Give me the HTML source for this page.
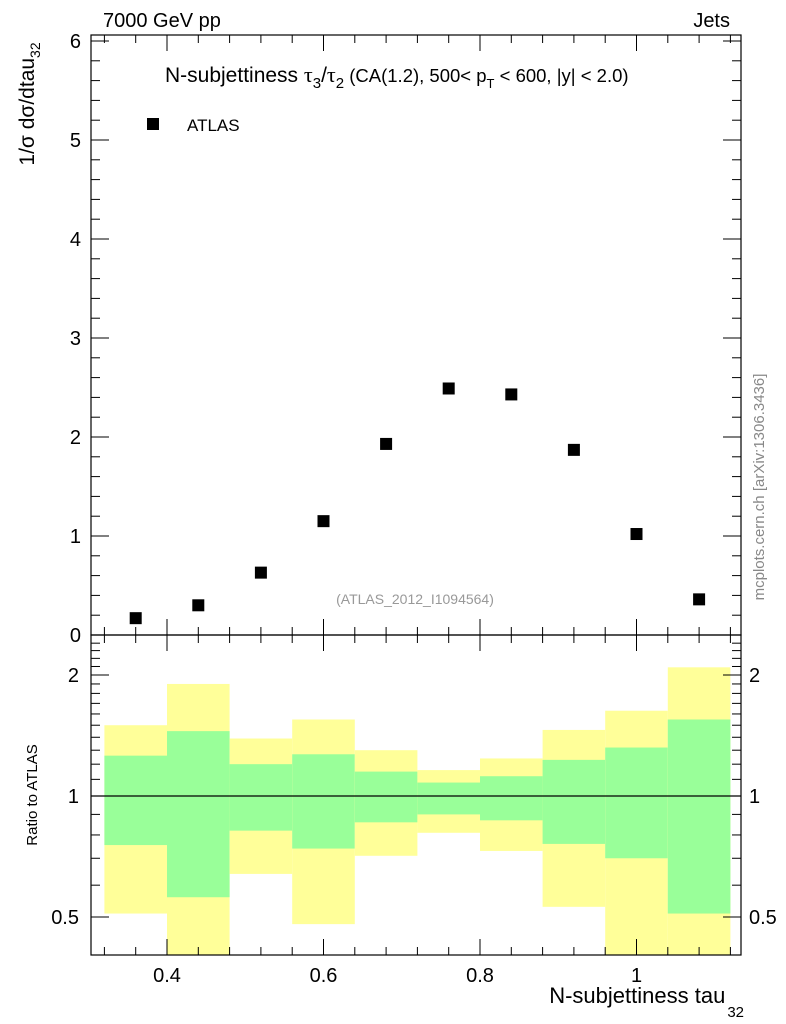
<!DOCTYPE html>
<html><head><meta charset="utf-8"><style>
body{margin:0;background:#fff;}
svg{display:block;font-family:"Liberation Sans",sans-serif;}
</style></head><body>
<svg id="c" width="786" height="1024" viewBox="0 0 786 1024"></svg>
<script>
const xs=[0.36,0.44,0.52,0.60,0.68,0.76,0.84,0.92,1.00,1.08];
const vals=[0.17,0.30,0.63,1.15,1.93,2.49,2.43,1.87,1.02,0.36];
const binLo=[0.32,0.40,0.48,0.56,0.64,0.72,0.80,0.88,0.96,1.04];
const binHi=[0.40,0.48,0.56,0.64,0.72,0.80,0.88,0.96,1.04,1.12];
const yelHi=[1.50,1.90,1.39,1.55,1.30,1.16,1.24,1.46,1.63,2.09];
const yelLo=[0.51,0.38,0.64,0.48,0.71,0.81,0.73,0.53,0.38,0.38];
const grnHi=[1.26,1.45,1.20,1.27,1.15,1.08,1.12,1.23,1.32,1.55];
const grnLo=[0.755,0.56,0.82,0.74,0.86,0.90,0.87,0.76,0.70,0.51];
const mainTicks=[0,1,2,3,4,5,6];
const xTicks=[0.4,0.6,0.8,1.0];
const xTickLabels=["0.4","0.6","0.8","1"];
const ratioTicks=[0.5,1,2];
const ratioTickLabels=["0.5","1","2"];

const NS="http://www.w3.org/2000/svg";
const svg=document.getElementById('c');
const L=91,R=741,MT=35,MB=635,RT=635,RB=955;
const X=v=>167+(v-0.4)*782.5;
const Y=v=>635-v*99;
const ymin=0.402,ymax=2.53;
const RY=v=>796-Math.log2(Math.max(v,ymin*0.99))*121;
function el(t,a,p){const e=document.createElementNS(NS,t);for(const k in a)e.setAttribute(k,a[k]);(p||svg).appendChild(e);return e;}
function txt(x,y,s,sz,anc,fill){const e=el('text',{x:x,y:y,'font-size':sz,'text-anchor':anc||'start',fill:fill||'#000'});e.textContent=s;return e;}

const clipR=el('clipPath',{id:'cr'});el('rect',{x:L,y:RT,width:R-L,height:RB-RT},clipR);
const bg=el('g',{'clip-path':'url(#cr)'});


for(let i=0;i<binLo.length;i++){
  const y=el('rect',{x:X(binLo[i]),y:RY(yelHi[i]),width:X(binHi[i])-X(binLo[i]),height:RY(yelLo[i])-RY(yelHi[i]),fill:'#ffff99'},bg);
  
  
  const g=el('rect',{x:X(binLo[i]),y:RY(grnHi[i]),width:X(binHi[i])-X(binLo[i]),height:RY(grnLo[i])-RY(grnHi[i]),fill:'#99ff99'},bg);
  
  
}
el('line',{x1:L,x2:R,y1:RY(1),y2:RY(1),stroke:'#000','stroke-width':1.2});

el('rect',{x:L,y:MT,width:R-L,height:MB-MT,fill:'none',stroke:'#000','stroke-width':1.2});
el('rect',{x:L,y:RT,width:R-L,height:RB-RT,fill:'none',stroke:'#000','stroke-width':1.2});

for(let v=0;v<=6.001;v+=0.2){const y=Y(v);if(y<MT)continue;const big=Math.abs(v-Math.round(v))<1e-6;const l=big?18:9;
 el('line',{x1:L,x2:L+l,y1:y,y2:y,stroke:'#000'});el('line',{x1:R,x2:R-l,y1:y,y2:y,stroke:'#000'});}
mainTicks.forEach(v=>{const t=txt(L-10,Y(v)+7,String(v),20,'end');});
for(let v=0.32;v<=1.13;v+=0.04){const x=X(v);if(x<L||x>R)continue;const big=Math.abs(v*5-Math.round(v*5))<1e-6;const l=big?16:8;
 [MT,RT].forEach(t=>el('line',{x1:x,x2:x,y1:t,y2:t+l,stroke:'#000'}));
 [MB,RB].forEach(b=>el('line',{x1:x,x2:x,y1:b,y2:b-l,stroke:'#000'}));}
xTicks.forEach((v,i)=>{const t=txt(X(v),982,xTickLabels[i],20,'middle');});
for(let v=0.4;v<=2.5;v+=0.1){const y=RY(v);if(y<RT||y>RB)continue;const big=ratioTicks.some(t=>Math.abs(t-v)<1e-6);const l=big?18:9;
 el('line',{x1:L,x2:L+l,y1:y,y2:y,stroke:'#000'});el('line',{x1:R,x2:R-l,y1:y,y2:y,stroke:'#000'});}
ratioTicks.forEach((v,i)=>{let t=txt(L-12,RY(v)+7,ratioTickLabels[i],20,'end');
 t=txt(R+8,RY(v)+7,ratioTickLabels[i],20,'start');});

xs.forEach((x,i)=>{const r=el('rect',{x:X(x)-6,y:Y(vals[i])-6,width:12,height:12,fill:'#000'});
 });

let t=txt(103,27,'7000 GeV pp',20);
t=txt(730,27,'Jets',20,'end');
t=el('text',{x:165,y:82,'font-size':21});
t.innerHTML='N-subjettiness <tspan font-family="Liberation Serif,serif" font-size="22">τ</tspan><tspan font-size="15" dy="6">3</tspan><tspan dy="-6">/</tspan><tspan font-family="Liberation Serif,serif" font-size="22">τ</tspan><tspan font-size="15" dy="6">2</tspan><tspan font-size="18.5" dy="-6"> (CA(1.2), 500&lt; p</tspan><tspan font-size="13" dy="6">T</tspan><tspan font-size="18.5" dy="-6"> &lt; 600, |y| &lt; 2.0)</tspan>';
el('rect',{x:147,y:118,width:12,height:12,fill:'#000'});
t=txt(187,131,'ATLAS',17);
t=txt(415,604,'(ATLAS_2012_I1094564)',14,'middle','#999');
t=el('text',{x:0,y:0,'font-size':21,transform:'translate(34,104) rotate(-90)','text-anchor':'middle'});t.innerHTML='1/σ dσ/dtau<tspan font-size="14" dy="6">32</tspan>';

t=el('text',{x:0,y:0,'font-size':15,transform:'translate(37,795) rotate(-90)','text-anchor':'middle'});t.textContent='Ratio to ATLAS';

t=el('text',{x:0,y:0,'font-size':15,fill:'#888',transform:'translate(764,487) rotate(-90)','text-anchor':'middle'});t.textContent='mcplots.cern.ch [arXiv:1306.3436]';

t=el('text',{x:744,y:1003,'font-size':22,'text-anchor':'end'});t.innerHTML='N-subjettiness tau<tspan font-size="15" dx="2" dy="14">32</tspan>';

</script>
</body></html>
